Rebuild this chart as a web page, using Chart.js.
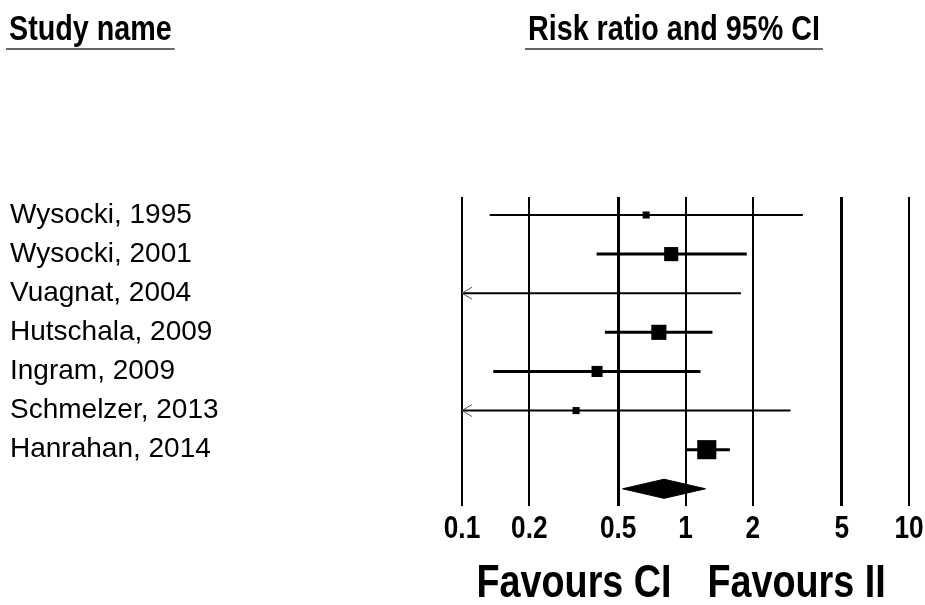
<!DOCTYPE html>
<html>
<head>
<meta charset="utf-8">
<script src="https://cdn.jsdelivr.net/npm/chart.js@4/dist/chart.umd.min.js"></script>
<style>
  html, body { margin: 0; padding: 0; background: #fff; }
  #forest { display: block; }
</style>
</head>
<body>
<canvas id="forest" width="925" height="605"></canvas>
<script>
// study data (risk ratio + 95% CI)
const studies = ['Wysocki, 1995', 'Wysocki, 2001', 'Vuagnat, 2004', 'Hutschala, 2009',
                 'Ingram, 2009', 'Schmelzer, 2013', 'Hanrahan, 2014'];
const riskRatio = [0.667, 0.863, null, 0.76, 0.402, 0.324, 1.245];
const ciLower   = [0.133, 0.40, 0.05, 0.436, 0.138, 0.05, 1.0];   // 0.05 = off scale (< 0.1)
const ciUpper   = [3.35, 1.88, 1.77, 1.32, 1.167, 2.95, 1.58];
const weights   = [4.7, 18.8, 1.9, 21.6, 11.6, 4.7, 34.6];        // relative weight, %
const pooled    = { est: 0.802, lower: 0.523, upper: 1.229 };
const axisTicks = [0.1, 0.2, 0.5, 1, 2, 5, 10];

const BOLD = "'Liberation Sans', Arial, sans-serif";
const NARROW = 0.82; // no narrow font installed, squeeze bold text instead
const pooledRow = studies.length + 1;

// draw horizontally condensed text
function narrowText(ctx, txt, x, y, size, align) {
    ctx.save();
    ctx.font = 'bold ' + size + 'px ' + BOLD;
    ctx.textAlign = align;
    ctx.textBaseline = 'alphabetic';
    ctx.translate(x, y);
    ctx.scale(NARROW, 1);
    ctx.fillText(txt, 0, 0);
    const w = ctx.measureText(txt).width * NARROW;
    ctx.restore();
    return w;
}

// one line dataset per study for the CI
const ciSets = studies.map((name, i) => ({
    label: name + ' CI',
    data: [{ x: ciLower[i], y: i + 1 }, { x: ciUpper[i], y: i + 1 }],
    showLine: true,
    borderColor: '#000',
    borderWidth: weights[i] > 10 ? 3 : 2,
    pointRadius: 0,
    clip: 0
}));

const markerSet = {
    label: 'Risk ratio',
    data: studies.map((n, i) => ({ x: riskRatio[i], y: i + 1 })).filter(p => p.x !== null),
    pointStyle: 'rect',
    pointRadius: studies.map((n, i) => Math.sqrt(weights[i]) * 3.25 / Math.SQRT2)
                        .filter((r, i) => riskRatio[i] !== null),
    pointBackgroundColor: '#000',
    pointBorderWidth: 0,
    showLine: false
};

const dh = 0.245; // half height of the diamond, in rows
const diamondSet = {
    label: 'Pooled',
    data: [
        { x: pooled.lower, y: pooledRow },
        { x: pooled.est, y: pooledRow - dh },
        { x: pooled.upper, y: pooledRow },
        { x: pooled.est, y: pooledRow + dh },
        { x: pooled.lower, y: pooledRow }
    ],
    showLine: true,
    fill: 'shape',
    backgroundColor: '#000',
    borderColor: '#000',
    borderWidth: 1,
    pointRadius: 0,
    tension: 0
};

// titles, tick labels, arrows for off-scale CIs, and the favours labels
const decorations = {
    id: 'decorations',
    afterDatasetsDraw(chart) {
        const ctx = chart.ctx;
        const xs = chart.scales.x;
        const ys = chart.scales.y;
        ctx.save();

        // off-scale arrows
        ctx.strokeStyle = '#555';
        ctx.lineWidth = 1;
        const x0 = xs.getPixelForValue(xs.min);
        ciLower.forEach((lo, i) => {
            if (lo >= xs.min) return;
            const y = ys.getPixelForValue(i + 1);
            ctx.beginPath();
            ctx.moveTo(x0 + 10, y - 6);
            ctx.lineTo(x0, y);
            ctx.lineTo(x0 + 10, y + 6);
            ctx.stroke();
        });

        ctx.fillStyle = '#000';

        // x tick labels
        xs.ticks.forEach(t => {
            narrowText(ctx, String(t.value), xs.getPixelForValue(t.value), xs.top + 32, 32, 'center');
        });

        // column headers
        const heads = [['Study name', 9], ['Risk ratio and 95% CI', 528]];
        heads.forEach(([txt, x]) => {
            const w = narrowText(ctx, txt, x, 40, 35, 'left');
            ctx.strokeStyle = '#666';
            ctx.lineWidth = 2;
            ctx.beginPath();
            ctx.moveTo(x - 3, 49);
            ctx.lineTo(x + w + 3, 49);
            ctx.stroke();
        });

        // favours
        const x1 = xs.getPixelForValue(1);
        narrowText(ctx, 'Favours CI', x1 - 14, 597, 46, 'right');
        narrowText(ctx, 'Favours II', x1 + 22, 597, 46, 'left');
        ctx.restore();
    }
};

new Chart(document.getElementById('forest'), {
    type: 'scatter',
    data: { datasets: [...ciSets, markerSet, diamondSet] },
    options: {
        responsive: false,
        animation: false,
        devicePixelRatio: 1,
        events: [],
        layout: { padding: { left: 10, top: 197, right: 16, bottom: 0 } },
        plugins: { legend: { display: false }, tooltip: { enabled: false } },
        scales: {
            x: {
                type: 'logarithmic',
                min: 0.1,
                max: 10,
                afterBuildTicks: (scale) => { scale.ticks = axisTicks.map(v => ({ value: v })); },
                afterFit: (scale) => { scale.height = 99; },
                border: { display: false },
                grid: {
                    color: '#000',
                    lineWidth: (c) => (c.tick && (c.tick.value === 0.5 || c.tick.value === 5)) ? 3 : 2,
                    drawTicks: false
                },
                ticks: { display: false }
            },
            y: {
                type: 'linear',
                reverse: true,
                min: 0.54,
                max: 8.44,
                afterBuildTicks: (scale) => { scale.ticks = studies.map((n, i) => ({ value: i + 1 })); },
                afterFit: (scale) => { scale.width = 452; },
                border: { display: false },
                grid: { display: false },
                ticks: {
                    color: '#000',
                    crossAlign: 'far',
                    autoSkip: false,
                    font: { family: "'Liberation Sans', Arial, sans-serif", size: 28 },
                    callback: (v) => studies[v - 1] || ''
                }
            }
        }
    },
    plugins: [decorations]
});
</script>
</body>
</html>
